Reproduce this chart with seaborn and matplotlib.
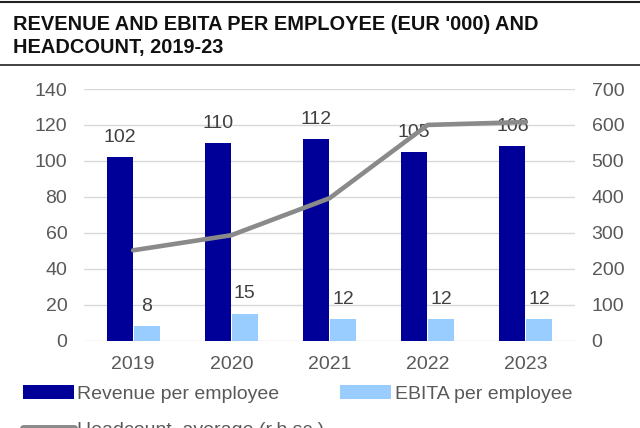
import numpy as np
import pandas as pd
import matplotlib
matplotlib.use("Agg")
import matplotlib.pyplot as plt
from matplotlib.patches import Patch
from matplotlib.lines import Line2D
import seaborn as sns

years = ["2019", "2020", "2021", "2022", "2023"]
revenue_per_employee = [102, 110, 112, 105, 108]
ebita_per_employee = [8, 15, 12, 12, 12]
headcount_average = [251, 293, 396, 600, 608]

series_names = ["Revenue per employee", "EBITA per employee"]
headcount_name = "Headcount, average (r.h.sc.)"
title = "REVENUE AND EBITA PER EMPLOYEE (EUR '000) AND\nHEADCOUNT, 2019-23"

DARK_BLUE = "#000099"
LIGHT_BLUE = "#99CCFF"
GREY_LINE = "#8A8A8A"
TEXT_GREY = "#595959"
LABEL_GREY = "#404040"

sns.set_theme(style="white")
plt.rcParams["font.family"] = ["Liberation Sans", "DejaVu Sans"]

df = pd.DataFrame({
    "year": years * 2,
    "value": revenue_per_employee + ebita_per_employee,
    "series": [series_names[0]] * len(years) + [series_names[1]] * len(years),
})

fig = plt.figure(figsize=(6.4, 4.28), dpi=100)
W, H = 640, 428
ax = fig.add_axes([84 / W, (H - 340.5) / H, 491 / W, 251.5 / H])

sns.barplot(data=df, x="year", y="value", hue="series", order=years,
            hue_order=series_names, palette=[DARK_BLUE, LIGHT_BLUE],
            saturation=1, width=0.55, gap=0.04, legend=False, ax=ax,
            linewidth=0)

ax.set_ylim(0, 140)
ax.set_yticks(np.arange(0, 141, 20))
ax.set_xlim(-0.5, len(years) - 0.5)
ax.grid(axis="y", color="#D9D9D9", linewidth=1)
ax.set_axisbelow(True)
for s in ax.spines.values():
    s.set_visible(False)
ax.set_xlabel("")
ax.set_ylabel("")
ax.tick_params(axis="both", length=0, labelsize=14, labelcolor=TEXT_GREY)
ax.tick_params(axis="y", pad=12)
ax.tick_params(axis="x", pad=11)

# value labels above each bar
for container in ax.containers:
    ax.bar_label(container, fmt="%d", padding=8, fontsize=14, color=LABEL_GREY)

ax2 = ax.twinx()
sns.lineplot(x=np.arange(len(years)), y=headcount_average, color=GREY_LINE,
             linewidth=3.3, ax=ax2, legend=False)
ax2.set_ylim(0, 700)
ax2.set_yticks(np.arange(0, 701, 100))
for s in ax2.spines.values():
    s.set_visible(False)
ax2.tick_params(axis="y", length=0, labelsize=14, labelcolor=TEXT_GREY, pad=12)
ax2.set_ylabel("")
ax2.grid(False)

# title and rules
fig.text(13 / W, 1 - 15 / H, title, ha="left", va="top", fontsize=14.4,
         fontweight="bold", color="#111111", linespacing=1.3)
fig.add_artist(Line2D([0, 1], [1 - 1.5 / H, 1 - 1.5 / H], color="#222222",
                      linewidth=1.5, transform=fig.transFigure))
fig.add_artist(Line2D([0, 1], [1 - 65 / H, 1 - 65 / H], color="#222222",
                      linewidth=1.2, transform=fig.transFigure))

handles = [
    Patch(facecolor=DARK_BLUE, edgecolor="none"),
    Line2D([], [], color=GREY_LINE, linewidth=5),
    Patch(facecolor=LIGHT_BLUE, edgecolor="none"),
]
labels = [series_names[0], headcount_name, series_names[1]]
fig.legend(handles, labels, loc="upper left", bbox_to_anchor=(23 / W, 1 - 385 / H),
           ncol=2, frameon=False, fontsize=14, labelcolor=TEXT_GREY,
           handlelength=2.6, handleheight=0.72, handletextpad=0.2,
           columnspacing=0.8, labelspacing=0.95, borderaxespad=0, borderpad=0)

fig.savefig("out.png", dpi=100)
